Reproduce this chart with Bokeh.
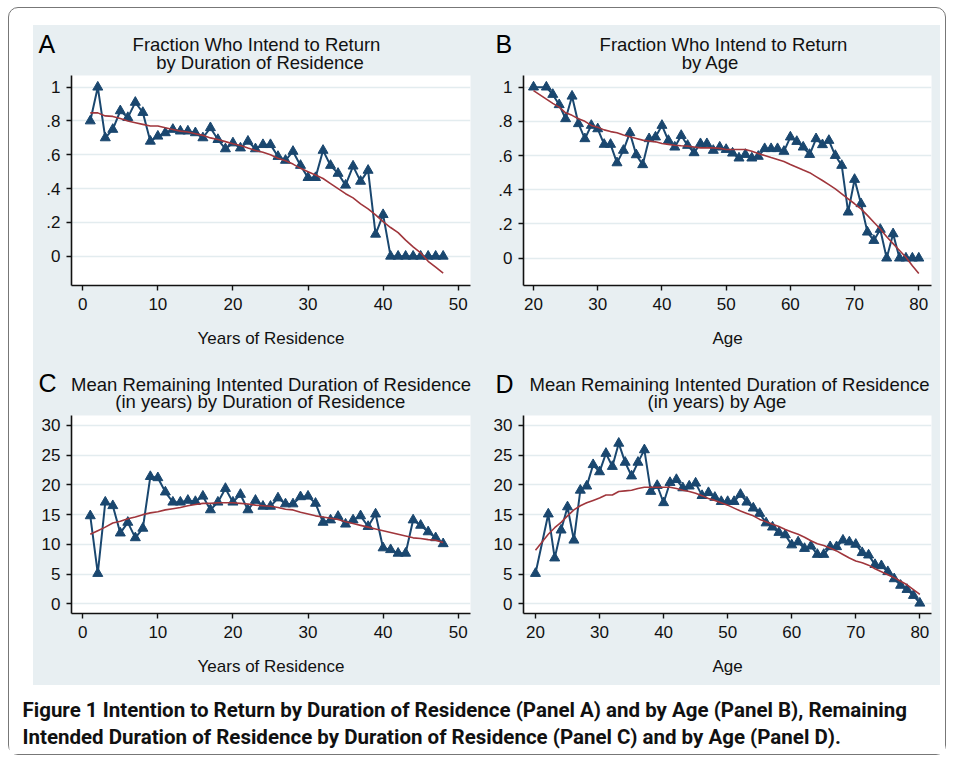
from bokeh.plotting import figure
from bokeh.models import Label, FixedTicker, Range1d, Spacer
from bokeh.layouts import column, row
from bokeh.embed import file_html
from bokeh.resources import INLINE

# ---------------- data ----------------
years = list(range(1, 49))
frac_by_years = [0.80, 1.00, 0.70, 0.75, 0.86, 0.82, 0.91, 0.85, 0.68, 0.71,
                 0.73, 0.75, 0.74, 0.74, 0.73, 0.70, 0.76, 0.69, 0.635, 0.67,
                 0.64, 0.68, 0.635, 0.66, 0.66, 0.59, 0.567, 0.62, 0.537, 0.465,
                 0.465, 0.626, 0.537, 0.49, 0.42, 0.533, 0.443, 0.508, 0.13, 0.246,
                 0, 0, 0, 0, 0, 0, 0, 0]
smooth_frac_years = [0.848, 0.848, 0.83, 0.827, 0.815, 0.80, 0.79, 0.78, 0.77, 0.77,
                     0.76, 0.75, 0.74, 0.735, 0.725, 0.715, 0.70, 0.69, 0.678, 0.665,
                     0.655, 0.64, 0.626, 0.615, 0.60, 0.58, 0.565, 0.545, 0.52, 0.50,
                     0.48, 0.46, 0.43, 0.40, 0.37, 0.345, 0.31, 0.28, 0.245, 0.205,
                     0.17, 0.14, 0.095, 0.055, 0.02, -0.03, -0.065, -0.10]

ages = [20, 22, 23, 24, 25, 26, 27, 28, 29,
        30, 31, 32, 33, 34, 35, 36, 37, 38, 39,
        40, 41, 42, 43, 44, 45, 46, 47, 48, 49,
        50, 51, 52, 53, 54, 55, 56, 57, 58, 59,
        60, 61, 62, 63, 64, 65, 66, 67, 68, 69,
        70, 71, 72, 73, 74, 75, 76, 77, 78, 79, 80]
frac_by_age = [1.0, 1.0, 0.957, 0.897, 0.815, 0.947, 0.786, 0.698, 0.776,
               0.756, 0.665, 0.665, 0.557, 0.63, 0.733, 0.604, 0.546, 0.698, 0.708,
               0.776, 0.688, 0.649, 0.717, 0.659, 0.616, 0.669, 0.669, 0.63, 0.649,
               0.635, 0.614, 0.585, 0.606, 0.585, 0.595, 0.64, 0.64, 0.64, 0.624,
               0.708, 0.682, 0.649, 0.606, 0.698, 0.663, 0.688, 0.60, 0.542, 0.269,
               0.46, 0.318, 0.152, 0.103, 0.168, 0.0, 0.142, 0.0, 0.0, 0.0, 0.0]
smooth_frac_age = [0.98, 0.93, 0.905, 0.883, 0.85, 0.835, 0.815, 0.80, 0.776,
                   0.765, 0.75, 0.74, 0.733, 0.72, 0.71, 0.70, 0.69, 0.685, 0.68,
                   0.67, 0.665, 0.66, 0.657, 0.655, 0.65, 0.645, 0.645, 0.645, 0.642,
                   0.635, 0.635, 0.635, 0.635, 0.625, 0.612, 0.60, 0.588, 0.577, 0.565,
                   0.548, 0.532, 0.515, 0.50, 0.477, 0.454, 0.43, 0.405, 0.376, 0.347,
                   0.318, 0.288, 0.25, 0.21, 0.17, 0.125, 0.085, 0.045, 0.005, -0.045, -0.09]

dur_by_years = [14.8, 5.1, 17.1, 16.5, 11.9, 13.7, 11.1, 12.7, 21.4, 21.2,
                18.8, 17.1, 17.1, 17.4, 17.2, 18.1, 15.8, 17.1, 19.4, 17.1,
                18.4, 15.8, 17.4, 16.4, 16.4, 17.8, 16.8, 16.8, 18.0, 18.1,
                16.9, 13.7, 14.1, 14.7, 13.4, 14.1, 14.8, 13.0, 15.1, 9.4,
                9.1, 8.5, 8.5, 14.1, 13.2, 12.1, 11.1, 10.1]
smooth_dur_years = [11.7, 12.3, 12.9, 13.6, 13.9, 14.3, 14.6, 15.0, 15.3, 15.5,
                    15.8, 16.0, 16.2, 16.5, 16.7, 16.9, 16.9, 17.0, 17.0, 17.0,
                    16.9, 16.8, 16.6, 16.5, 16.4, 16.2, 15.9, 15.8, 15.4, 15.1,
                    14.8, 14.6, 14.4, 14.2, 13.8, 13.5, 13.2, 12.9, 12.6, 12.3,
                    12.0, 11.7, 11.4, 11.1, 11.0, 10.8, 10.7, 10.3]

dur_by_age = [5.1, 15.1, 7.7, 12.4, 16.3, 10.7, 19.1, 19.8, 23.4,
              22.2, 25.3, 23.1, 27.0, 23.8, 21.5, 23.8, 25.9, 18.9, 19.9,
              17.0, 20.4, 20.9, 19.5, 19.8, 20.3, 18.2, 18.7, 17.9, 17.2,
              17.2, 17.2, 18.4, 17.1, 16.1, 15.2, 13.6, 12.9, 12.0, 11.6,
              9.9, 10.4, 9.3, 9.7, 8.3, 8.3, 9.6, 9.6, 10.7, 10.4,
              10.0, 8.6, 8.2, 6.6, 6.4, 5.4, 4.2, 3.1, 2.4, 1.4, 0.1]
smooth_dur_age = [9.0, 11.7, 12.8, 13.7, 14.8, 15.8, 16.5, 17.0, 17.4,
                  17.8, 18.3, 18.3, 18.9, 19.0, 19.1, 19.4, 19.6, 19.6, 19.6,
                  19.6, 19.6, 19.4, 19.1, 18.9, 18.6, 18.2, 17.7, 17.4, 17.0,
                  16.6, 16.1, 15.6, 15.2, 14.8, 14.2, 13.8, 13.4, 13.0, 12.5,
                  12.1, 11.7, 11.2, 10.6, 10.1, 9.8, 9.4, 8.9, 8.3, 7.7,
                  7.2, 6.9, 6.5, 5.9, 5.4, 4.9, 4.4, 3.8, 3.2, 2.4, 1.6]

frac_ticks = [0, 0.2, 0.4, 0.6, 0.8, 1]
frac_tick_labels = ["0", ".2", ".4", ".6", ".8", "1"]
dur_ticks = [0, 5, 10, 15, 20, 25, 30]
dur_tick_labels = ["0", "5", "10", "15", "20", "25", "30"]
years_ticks = [0, 10, 20, 30, 40, 50]
age_ticks = [20, 30, 40, 50, 60, 70, 80]

panel_letters = ["A", "B", "C", "D"]
panel_titles = [("Fraction Who Intend to Return", "by Duration of Residence"),
                ("Fraction Who Intend to Return", "by Age"),
                ("Mean Remaining Intented Duration of Residence",
                 "(in years) by Duration of Residence"),
                ("Mean Remaining Intented Duration of Residence",
                 "(in years) by Age")]

caption_line1 = "Figure 1 Intention to Return by Duration of Residence (Panel A) and by Age (Panel B), Remaining"
caption_line2 = "Intended Duration of Residence by Duration of Residence (Panel C) and by Age (Panel D)."

# ---------------- style ----------------
BG = "#e8eff2"
GRID = "#e3ecef"
NAVY = "#1a476f"
RED = "#a0363c"
FONT = "Liberation Sans"
TXT = "#111111"


def blank(w, h, fill):
    f = figure(width=w, height=h, output_backend="svg", toolbar_location=None,
               x_range=Range1d(0, w), y_range=Range1d(0, h), min_border=0)
    f.title.visible = False
    f.axis.visible = False
    f.grid.visible = False
    f.outline_line_color = None
    f.background_fill_color = fill
    f.border_fill_color = fill
    return f


def make_panel(xs, ys, sm, xr, yr, xticks, yticks, ylabels, xlabel, w, h, borders):
    bl, br, bt, bb = borders
    p = figure(width=w, height=h, output_backend="svg", toolbar_location=None,
               x_range=Range1d(*xr), y_range=Range1d(*yr),
               min_border_left=bl, min_border_right=br,
               min_border_top=bt, min_border_bottom=bb)
    p.title.visible = False
    p.background_fill_color = "white"
    p.border_fill_color = BG
    p.outline_line_color = None
    p.xgrid.visible = False
    p.ygrid.grid_line_color = GRID
    p.ygrid.grid_line_width = 1.5
    p.ygrid.ticker = FixedTicker(ticks=yticks)

    p.xaxis.ticker = FixedTicker(ticks=xticks)
    p.yaxis.ticker = FixedTicker(ticks=yticks)
    p.yaxis.major_label_overrides = {t: l for t, l in zip(yticks, ylabels)}
    for ax in (p.xaxis[0], p.yaxis[0]):
        ax.axis_line_color = TXT
        ax.axis_line_width = 1.6
        ax.major_tick_line_color = TXT
        ax.major_tick_line_width = 1.4
        ax.major_tick_out = 5
        ax.major_tick_in = 0
        ax.minor_tick_line_color = None
        ax.major_label_text_font = FONT
        ax.major_label_text_font_size = "17px"
        ax.major_label_text_color = TXT
    p.yaxis.major_label_orientation = "horizontal"
    p.yaxis.major_label_standoff = 6
    p.xaxis.major_label_standoff = 7
    p.xaxis.axis_label = xlabel
    p.xaxis.axis_label_text_font = FONT
    p.xaxis.axis_label_text_font_size = "17px"
    p.xaxis.axis_label_text_font_style = "normal"
    p.xaxis.axis_label_text_color = TXT
    p.xaxis.axis_label_standoff = 16

    p.line(xs, ys, line_color=NAVY, line_width=2)
    p.scatter(xs, ys, marker="triangle", size=10, fill_color=NAVY, line_color=NAVY)
    p.line(xs, sm, line_color=RED, line_width=1.6)
    return p


def header(h, items):
    f = blank(907, h, BG)
    for letter, (l1, l2), (lx, ly), (c1x, c1y), (c2x, c2y) in items:
        f.add_layout(Label(x=lx, y=ly, text=letter, text_font=FONT,
                           text_font_size="25px", text_color="#000000",
                           text_align="left", text_baseline="middle"))
        f.add_layout(Label(x=c1x, y=c1y, text=l1, text_font=FONT,
                           text_font_size="18.5px", text_color=TXT,
                           text_align="center", text_baseline="middle"))
        f.add_layout(Label(x=c2x, y=c2y, text=l2, text_font=FONT,
                           text_font_size="18.5px", text_color=TXT,
                           text_align="center", text_baseline="middle"))
    return f


hdr_top = header(50, [
    (panel_letters[0], panel_titles[0], (5, 32), (223, 31.5), (226.5, 13)),
    (panel_letters[1], panel_titles[1], (462, 31.5), (690, 31.5), (677, 13)),
])
hdr_bot = header(60, [
    (panel_letters[2], panel_titles[2], (5, 33), (237.5, 31), (226.7, 14)),
    (panel_letters[3], panel_titles[3], (462, 32), (696, 31), (684, 14)),
])

pA = make_panel(years, frac_by_years, smooth_frac_years, (-1.5, 51.64), (-0.173, 1.069),
                years_ticks, frac_ticks, frac_tick_labels, "Years of Residence",
                447, 280, (38, 10, 0, 70))
pB = make_panel(ages, frac_by_age, smooth_frac_age, (18.44, 81.98), (-0.16, 1.068),
                age_ticks, frac_ticks, frac_tick_labels, "Age",
                460, 280, (43, 9, 0, 70))
pC = make_panel(years, dur_by_years, smooth_dur_years, (-1.5, 51.64), (-1.63, 31.68),
                years_ticks, dur_ticks, dur_tick_labels, "Years of Residence",
                447, 270, (38, 10, 0, 72))
pD = make_panel(ages, dur_by_age, smooth_dur_age, (18.13, 81.82), (-1.63, 31.68),
                age_ticks, dur_ticks, dur_tick_labels, "Age",
                460, 270, (43, 9, 0, 72))

cap = blank(936, 69, "white")
for txt, yy in ((caption_line1, 45), (caption_line2, 18)):
    cap.add_layout(Label(x=13, y=yy, text=txt, text_font="Roboto",
                         text_font_style="bold", text_font_size="20.5px",
                         text_color=TXT, text_align="left",
                         text_baseline="alphabetic"))

graph_area = column(
    hdr_top,
    row(pA, pB),
    hdr_bot,
    row(pC, pD),
    styles={"background-color": BG},
)

framed = column(
    Spacer(height=17, width=930),
    row(Spacer(width=24, height=660), graph_area),
    cap,
    styles={"border": "1px solid #777777", "border-radius": "10px",
            "background-color": "white"},
)

layout = column(Spacer(height=7, width=10), row(Spacer(width=8, height=10), framed))

open("out.html", "w").write(file_html(layout, INLINE))
